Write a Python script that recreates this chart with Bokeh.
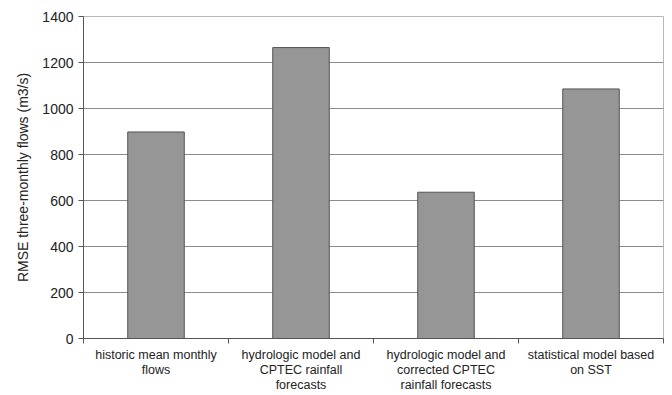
from bokeh.plotting import figure
from bokeh.models import LinearAxis, FixedTicker, Range1d, ColumnDataSource
from bokeh.embed import file_html
from bokeh.resources import INLINE

categories = [
    "historic mean monthly\nflows",
    "hydrologic model and\nCPTEC rainfall\nforecasts",
    "hydrologic model and\ncorrected CPTEC\nrainfall forecasts",
    "statistical model based\non SST",
]
rmse = [898, 1265, 636, 1085]
y_ticks = [0, 200, 400, 600, 800, 1000, 1200, 1400]
y_label = "RMSE three-monthly flows (m3/s)"

FONT = "Liberation Sans"
TXT = "#222222"

xs = [i + 0.5 for i in range(len(categories))]
src = ColumnDataSource(dict(x=xs, top=rmse))

p = figure(width=672, height=395, output_backend="svg", toolbar_location=None,
           x_range=Range1d(0, len(categories)), y_range=Range1d(0, 1400),
           min_border_left=83, min_border_right=9, min_border_top=16, min_border_bottom=57)
p.background_fill_color = "white"
p.border_fill_color = "white"
p.outline_line_color = "#b8b8b8"
p.outline_line_width = 1

p.vbar(x="x", top="top", width=0.39, source=src, fill_color="#969696",
       line_color="#555555", line_width=1)

# y axis
p.yaxis.ticker = FixedTicker(ticks=y_ticks)
p.yaxis.minor_tick_line_color = None
p.yaxis.major_tick_in = 0
p.yaxis.major_tick_out = 5
p.yaxis.major_tick_line_color = "#555555"
p.yaxis.axis_line_color = "#555555"
p.yaxis.major_label_text_font = FONT
p.yaxis.major_label_text_font_size = "14px"
p.yaxis.major_label_text_color = TXT
p.yaxis.major_label_standoff = 5
p.yaxis.axis_label = y_label
p.yaxis.axis_label_text_font = FONT
p.yaxis.axis_label_text_font_size = "14px"
p.yaxis.axis_label_text_font_style = "normal"
p.yaxis.axis_label_text_color = TXT
p.yaxis.axis_label_standoff = 8

p.ygrid.ticker = FixedTicker(ticks=y_ticks)
p.ygrid.grid_line_color = "#8c8c8c"
p.ygrid.grid_line_width = 1
p.xgrid.grid_line_color = None

# x axis: boundary ticks only
p.xaxis.ticker = FixedTicker(ticks=list(range(len(categories) + 1)))
p.xaxis.minor_tick_line_color = None
p.xaxis.major_tick_in = 0
p.xaxis.major_tick_out = 5
p.xaxis.major_tick_line_color = "#555555"
p.xaxis.axis_line_color = "#555555"
p.xaxis.major_label_text_font_size = "0px"
p.xaxis.major_label_standoff = 0
p.xaxis.major_label_overrides = {i: "" for i in range(len(categories) + 1)}

# second axis carrying category labels
lab_axis = LinearAxis(ticker=FixedTicker(ticks=xs),
                      major_label_overrides={x: c for x, c in zip(xs, categories)})
lab_axis.axis_line_color = None
lab_axis.major_tick_line_color = None
lab_axis.minor_tick_line_color = None
lab_axis.major_tick_out = 0
lab_axis.major_tick_in = 0
lab_axis.major_label_standoff = 4
lab_axis.major_label_text_font = FONT
lab_axis.major_label_text_font_size = "12.5px"
lab_axis.major_label_text_color = TXT
lab_axis.major_label_text_line_height = 1.1
p.add_layout(lab_axis, "below")

open("out.html", "w").write(file_html(p, INLINE))
